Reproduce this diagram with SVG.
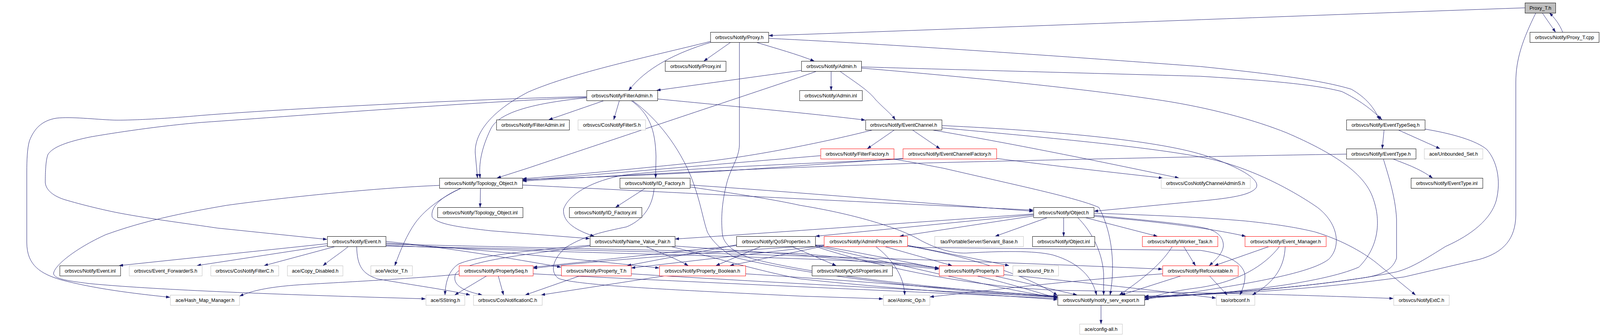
<svg xmlns="http://www.w3.org/2000/svg" width="4239" height="859" viewBox="0 0 4239 859" preserveAspectRatio="none" style="width:100vw;height:100vh;display:block">
<style>
rect{fill:#fff;stroke:#000;stroke-width:1}
.g rect{stroke:#bfbfbf}
.r rect{stroke:#ff0000}
.root rect{fill:#bfbfbf;stroke:#000}
text{font-family:"Liberation Sans",Arial,Helvetica,sans-serif;font-size:13px;fill:#000;text-anchor:middle}
#edges path{fill:none;stroke:#191970;stroke-width:1;marker-end:url(#ah)}
</style>
<defs>
<marker id="ah" viewBox="0 0 10 7" refX="10" refY="3.5" markerWidth="10" markerHeight="7" markerUnits="userSpaceOnUse" orient="auto"><path d="M0,0 L10,3.5 L0,7 z" fill="#191970" stroke="#191970" stroke-width="0.5"/></marker>
</defs>
<rect x="0" y="0" width="4239" height="859" style="fill:#fff;stroke:none"/>
<g id="edges">
<path d="M4040,20 C3500,38 2600,72 2037,91"/>
<path d="M4086,33 L4121,82"/>
<path d="M4140,82 C4132,62 4118,45 4105,33"/>
<path d="M4069,33 C4035,100 4016,150 4016,210 L4016,550 C4015,610 3985,645 3920,663 L3720,708 C3500,738 3250,754 3033,757"/>
<path d="M1936,108 L1865,156"/>
<path d="M2003,108 C2060,125 2110,138 2157,156"/>
<path d="M1884,108 C1790,135 1710,175 1666,231"/>
<path d="M1882,106 C1720,145 1520,185 1400,235 C1300,285 1258,340 1259,390 L1265,455"/>
<path d="M2036,98 C2400,115 2900,150 3180,170 C3380,190 3500,205 3580,228 C3620,250 3640,275 3655,306"/>
<path d="M1959,108 L1959,370 C1958,405 1935,430 1925,470 C1912,520 1910,560 1914,600 C1918,625 1945,645 1988,660 C2100,690 2400,735 2801,758"/>
<path d="M2202,182 L2202,231"/>
<path d="M2225,182 C2265,210 2300,230 2320,255 C2345,280 2360,290 2372,306"/>
<path d="M2123,180 L1740,231"/>
<path d="M2164,182 L2120,197 L1398,430 L1317,455"/>
<path d="M2282,171 C2600,180 3000,190 3180,195 C3350,205 3480,215 3555,234 C3600,255 3635,280 3661,306"/>
<path d="M2282,174 C2600,200 2880,228 3080,257 C3200,275 3320,305 3410,340 C3530,390 3610,440 3635,500 C3660,560 3655,630 3600,683 C3500,725 3250,752 3033,762"/>
<path d="M1601,257 L1454,306"/>
<path d="M1641,257 L1626,306"/>
<path d="M1554,250 C1400,265 1320,290 1300,330 C1275,380 1268,420 1272,455"/>
<path d="M1742,253 C1900,268 2150,290 2292,307"/>
<path d="M1672,257 C1720,290 1736,330 1738,400 L1737,455"/>
<path d="M1675,257 C1745,305 1800,380 1830,450 C1855,510 1862,560 1874,593 C1885,615 1920,650 1955,660 C2150,705 2500,745 2801,760"/>
<path d="M1554,247 C1300,252 800,275 534,295 C420,305 330,308 300,307 C250,305 190,298 150,302 C110,308 90,330 78,360 C72,380 71,410 71,440 L71,620 C71,680 110,700 160,715 C250,738 350,750 450,760"/>
<path d="M1554,249 C1300,258 800,295 534,313 C420,322 300,340 240,350 C180,362 140,375 127,395 C121,410 120,440 120,467 C122,490 150,505 177,512 C230,527 290,540 318,545 C400,560 500,572 575,583 L866,612"/>
<path d="M2370,332 L2298,380"/>
<path d="M2417,332 L2490,380"/>
<path d="M2313,332 C2200,360 2000,400 1850,415 C1650,435 1480,450 1385,457"/>
<path d="M2468,332 C2700,370 2950,420 3123,455"/>
<path d="M2496,321 C2800,335 3080,360 3200,400 C3290,430 3340,460 3328,480 C3315,497 3270,505 3200,512 L2899,540"/>
<path d="M2496,327 C2750,350 3050,375 3200,405 C3320,430 3430,490 3490,530 C3545,570 3555,630 3520,663 C3470,700 3300,728 3033,765"/>
<path d="M3667,332 L3662,380"/>
<path d="M3704,332 L3815,380"/>
<path d="M3775,330 C3850,342 3912,360 3939,382 C3965,410 3978,460 3964,513 C3950,560 3900,600 3830,630 C3780,660 3740,685 3700,695 C3500,735 3200,752 3033,759"/>
<path d="M3690,406 C3720,418 3760,430 3795,455"/>
<path d="M3665,406 C3675,440 3697,500 3700,560 L3700,660 C3690,690 3660,705 3600,712 C3400,740 3200,754 3033,760"/>
<path d="M3567,394 C3300,398 2800,408 2440,417 C2000,430 1600,450 1385,463"/>
<path d="M2174,398 C1900,420 1600,445 1385,461"/>
<path d="M2368,407 C2420,415 2460,423 2499,430 C2700,475 2850,505 2911,530 C2940,580 2958,663 2941,754"/>
<path d="M2392,405 C2250,415 2100,425 1950,435 C1700,450 1500,455 1385,459"/>
<path d="M2640,405 C2800,425 2960,442 3080,455"/>
<path d="M2400,406 C2100,420 1800,430 1650,448 C1560,465 1505,500 1493,535 C1490,570 1530,590 1574,604"/>
<path d="M1273,481 L1272,530"/>
<path d="M1384,473 C1700,488 2400,522 2737,537"/>
<path d="M1222,481 C1165,505 1140,530 1145,555 C1160,575 1230,582 1300,590 L1562,610"/>
<path d="M1222,481 C1180,500 1130,530 1100,570 C1078,600 1062,637 1046,679"/>
<path d="M1164,474 C1000,480 750,505 600,525 C480,545 380,565 280,600 C200,635 142,680 142,700 C145,712 170,717 237,725 C400,740 700,752 1060,762 L1127,764"/>
<path d="M1710,481 L1631,530"/>
<path d="M1828,473 C2100,490 2450,520 2737,540"/>
<path d="M1828,478 C1950,495 2050,510 2120,525 C2250,545 2380,580 2440,615 C2480,635 2520,648 2560,647 C2650,642 2740,640 2790,652 C2860,672 2895,710 2905,754"/>
<path d="M1733,481 C1730,520 1710,560 1660,580 C1600,592 1550,602 1500,632 C1465,660 1455,695 1480,712 C1530,730 1800,742 2120,757 L2339,764"/>
<path d="M2738,547 C2400,570 2000,598 1789,611"/>
<path d="M2738,549 L2161,604"/>
<path d="M2738,552 L2384,604"/>
<path d="M2776,556 L2637,604"/>
<path d="M2818,556 L2818,604"/>
<path d="M2874,556 L3066,604"/>
<path d="M2855,556 C2890,590 2920,640 2924,700 L2924,754"/>
<path d="M2898,553 C3050,565 3200,582 3300,604"/>
<path d="M2898,550 C3000,560 3150,572 3200,585 C3235,595 3242,615 3241,630 C3238,650 3220,665 3204,679"/>
<path d="M2898,545 C3050,550 3180,555 3300,565 C3400,575 3450,585 3484,593 C3560,615 3620,650 3653,677 L3750,754"/>
<path d="M867,623 L316,679"/>
<path d="M867,628 L522,679"/>
<path d="M889,630 L700,679"/>
<path d="M923,630 C905,645 880,660 856,679"/>
<path d="M945,630 C946,680 960,700 1000,713 C1100,730 1180,740 1245,754"/>
<path d="M1022,617 C1200,635 1350,660 1486,683"/>
<path d="M1022,621 C1300,640 1550,665 1746,685"/>
<path d="M1022,624 C1500,635 2000,645 2120,648 C2250,660 2380,675 2487,685"/>
<path d="M1022,627 C1400,645 2100,655 2420,675 C2600,700 2720,740 2801,762"/>
<path d="M1022,629 C1600,640 2300,655 3079,688"/>
<path d="M1711,630 C1745,645 1790,660 1823,679"/>
<path d="M1563,627 C1400,640 1260,655 1215,675 C1190,690 1180,720 1179,754"/>
<path d="M1563,629 C1350,655 1230,670 1207,700 C1198,725 1218,742 1277,754"/>
<path d="M1788,629 C1950,640 2100,650 2120,652 C2250,665 2380,678 2487,688"/>
<path d="M1777,630 C1900,660 2000,690 2120,713 C2400,742 2650,755 2801,766"/>
<path d="M1951,628 C1786,643 1549,670 1413,683"/>
<path d="M1951,626 L1662,679"/>
<path d="M2016,630 L1897,679"/>
<path d="M2097,630 L2215,679"/>
<path d="M2160,626 C2300,650 2400,670 2487,686"/>
<path d="M2160,628 C2400,680 2650,740 2801,761"/>
<path d="M2160,630 C2350,690 2600,735 2800,742 L3200,749 C3400,753 3550,758 3691,763"/>
<path d="M2183,626 C1800,650 1550,670 1413,686"/>
<path d="M2183,628 L1673,685"/>
<path d="M2183,629 L1934,679"/>
<path d="M2343,630 L2522,679"/>
<path d="M2320,630 C2360,660 2394,700 2397,754"/>
<path d="M2404,627 L2673,679"/>
<path d="M2404,629 C2600,660 2750,720 2801,755"/>
<path d="M2404,629 C2430,632 2445,633 2458,633 L3180,640 C3250,650 3290,670 3298,700 C3300,720 3292,740 3285,754"/>
<path d="M3136,630 L3167,679"/>
<path d="M3106,630 C3080,670 3040,705 2966,754"/>
<path d="M3363,630 L3218,679"/>
<path d="M3390,630 C3350,680 3280,720 3180,735 C3100,745 3060,755 3033,767"/>
<path d="M3405,630 C3403,680 3380,720 3318,754"/>
<path d="M1290,705 L1205,754"/>
<path d="M1320,705 L1334,754"/>
<path d="M1216,701 C1100,712 900,722 811,727 C720,732 670,742 635,757"/>
<path d="M1412,700 C1800,720 2400,745 2801,763"/>
<path d="M1537,705 L1392,754"/>
<path d="M1672,700 C2000,720 2500,745 2801,759"/>
<path d="M1763,705 L1434,754"/>
<path d="M1975,700 C2300,720 2600,745 2801,757"/>
<path d="M2634,705 L2853,754"/>
<path d="M2659,702 C2800,715 3000,735 3221,762"/>
<path d="M3130,705 L2971,754"/>
<path d="M3204,705 L3251,754"/>
<path d="M3080,700 C2800,720 2600,745 2464,759"/>
<path d="M2917,780 L2917,828"/>
</g>
<g id="PT" class="root"><rect x="4040.5" y="7.5" width="81" height="26"/><text x="4081" y="25">Proxy_T.h</text></g>
<g id="P"><rect x="1882.5" y="82.5" width="154" height="26"/><text x="1959" y="100">orbsvcs/Notify/Proxy.h</text></g>
<g id="PTC"><rect x="4053.5" y="82.5" width="183" height="26"/><text x="4145" y="100">orbsvcs/Notify/Proxy_T.cpp</text></g>
<g id="PI"><rect x="1762.5" y="156.5" width="161" height="26"/><text x="1843" y="174">orbsvcs/Notify/Proxy.inl</text></g>
<g id="A"><rect x="2123.5" y="156.5" width="159" height="26"/><text x="2203" y="174">orbsvcs/Notify/Admin.h</text></g>
<g id="FA"><rect x="1554.5" y="231.5" width="188" height="26"/><text x="1648" y="249">orbsvcs/Notify/FilterAdmin.h</text></g>
<g id="AI"><rect x="2118.5" y="231.5" width="166" height="26"/><text x="2201" y="249">orbsvcs/Notify/Admin.inl</text></g>
<g id="FAI"><rect x="1315.5" y="306.5" width="193" height="26"/><text x="1412" y="324">orbsvcs/Notify/FilterAdmin.inl</text></g>
<g id="CFS" class="g"><rect x="1531.5" y="306.5" width="179" height="26"/><text x="1621" y="324">orbsvcs/CosNotifyFilterS.h</text></g>
<g id="EC"><rect x="2293.5" y="306.5" width="202" height="26"/><text x="2394" y="324">orbsvcs/Notify/EventChannel.h</text></g>
<g id="ETS"><rect x="3567.5" y="306.5" width="208" height="26"/><text x="3671" y="324">orbsvcs/Notify/EventTypeSeq.h</text></g>
<g id="FF" class="r"><rect x="2174.5" y="380.5" width="194" height="26"/><text x="2271" y="398">orbsvcs/Notify/FilterFactory.h</text></g>
<g id="ECF" class="r"><rect x="2392.5" y="380.5" width="248" height="26"/><text x="2516" y="398">orbsvcs/Notify/EventChannelFactory.h</text></g>
<g id="ET"><rect x="3567.5" y="380.5" width="184" height="26"/><text x="3659" y="398">orbsvcs/Notify/EventType.h</text></g>
<g id="US" class="g"><rect x="3773.5" y="380.5" width="155" height="26"/><text x="3851" y="398">ace/Unbounded_Set.h</text></g>
<g id="TO"><rect x="1164.5" y="455.5" width="220" height="26"/><text x="1274" y="473">orbsvcs/Notify/Topology_Object.h</text></g>
<g id="IDF"><rect x="1642.5" y="455.5" width="186" height="26"/><text x="1735" y="473">orbsvcs/Notify/ID_Factory.h</text></g>
<g id="CCA" class="g"><rect x="3076.5" y="455.5" width="236" height="26"/><text x="3194" y="473">orbsvcs/CosNotifyChannelAdminS.h</text></g>
<g id="ETI"><rect x="3738.5" y="455.5" width="190" height="26"/><text x="3833" y="473">orbsvcs/Notify/EventType.inl</text></g>
<g id="TOI"><rect x="1159.5" y="530.5" width="226" height="26"/><text x="1272" y="548">orbsvcs/Notify/Topology_Object.inl</text></g>
<g id="IDI"><rect x="1508.5" y="530.5" width="192" height="26"/><text x="1604" y="548">orbsvcs/Notify/ID_Factory.inl</text></g>
<g id="O"><rect x="2738.5" y="530.5" width="160" height="26"/><text x="2818" y="548">orbsvcs/Notify/Object.h</text></g>
<g id="EV"><rect x="867.5" y="604.5" width="155" height="26"/><text x="945" y="622">orbsvcs/Notify/Event.h</text></g>
<g id="NVP"><rect x="1563.5" y="604.5" width="225" height="26"/><text x="1676" y="622">orbsvcs/Notify/Name_Value_Pair.h</text></g>
<g id="QP"><rect x="1951.5" y="604.5" width="209" height="26"/><text x="2056" y="622">orbsvcs/Notify/QoSProperties.h</text></g>
<g id="AP" class="r"><rect x="2183.5" y="604.5" width="221" height="26"/><text x="2294" y="622">orbsvcs/Notify/AdminProperties.h</text></g>
<g id="SB" class="g"><rect x="2476.5" y="604.5" width="235" height="26"/><text x="2594" y="622">tao/PortableServer/Servant_Base.h</text></g>
<g id="OI"><rect x="2735.5" y="604.5" width="165" height="26"/><text x="2818" y="622">orbsvcs/Notify/Object.inl</text></g>
<g id="WT" class="r"><rect x="3026.5" y="604.5" width="200" height="26"/><text x="3126" y="622">orbsvcs/Notify/Worker_Task.h</text></g>
<g id="EM" class="r"><rect x="3298.5" y="604.5" width="215" height="26"/><text x="3406" y="622">orbsvcs/Notify/Event_Manager.h</text></g>
<g id="EVI"><rect x="158.5" y="679.5" width="161" height="26"/><text x="239" y="697">orbsvcs/Notify/Event.inl</text></g>
<g id="EFS" class="g"><rect x="342.5" y="679.5" width="193" height="26"/><text x="439" y="697">orbsvcs/Event_ForwarderS.h</text></g>
<g id="CFC" class="g"><rect x="558.5" y="679.5" width="180" height="26"/><text x="648" y="697">orbsvcs/CosNotifyFilterC.h</text></g>
<g id="CD" class="g"><rect x="761.5" y="679.5" width="147" height="26"/><text x="835" y="697">ace/Copy_Disabled.h</text></g>
<g id="VT" class="g"><rect x="982.5" y="679.5" width="110" height="26"/><text x="1037" y="697">ace/Vector_T.h</text></g>
<g id="PS" class="r"><rect x="1216.5" y="679.5" width="196" height="26"/><text x="1314" y="697">orbsvcs/Notify/PropertySeq.h</text></g>
<g id="PRT" class="r"><rect x="1487.5" y="679.5" width="185" height="26"/><text x="1580" y="697">orbsvcs/Notify/Property_T.h</text></g>
<g id="PB" class="r"><rect x="1747.5" y="679.5" width="228" height="26"/><text x="1861" y="697">orbsvcs/Notify/Property_Boolean.h</text></g>
<g id="QPI"><rect x="2151.5" y="679.5" width="213" height="26"/><text x="2258" y="697">orbsvcs/Notify/QoSProperties.inl</text></g>
<g id="PR" class="r"><rect x="2488.5" y="679.5" width="171" height="26"/><text x="2574" y="697">orbsvcs/Notify/Property.h</text></g>
<g id="BP" class="g"><rect x="2683.5" y="679.5" width="121" height="26"/><text x="2744" y="697">ace/Bound_Ptr.h</text></g>
<g id="RC" class="r"><rect x="3080.5" y="679.5" width="200" height="26"/><text x="3180" y="697">orbsvcs/Notify/Refcountable.h</text></g>
<g id="HMM" class="g"><rect x="451.5" y="754.5" width="183" height="26"/><text x="543" y="772">ace/Hash_Map_Manager.h</text></g>
<g id="SS" class="g"><rect x="1128.5" y="754.5" width="103" height="26"/><text x="1180" y="772">ace/SString.h</text></g>
<g id="CNC" class="g"><rect x="1254.5" y="754.5" width="182" height="26"/><text x="1345" y="772">orbsvcs/CosNotificationC.h</text></g>
<g id="AO" class="g"><rect x="2340.5" y="754.5" width="123" height="26"/><text x="2402" y="772">ace/Atomic_Op.h</text></g>
<g id="NSE"><rect x="2802.5" y="754.5" width="230" height="26"/><text x="2917" y="772">orbsvcs/Notify/notify_serv_export.h</text></g>
<g id="OC" class="g"><rect x="3222.5" y="754.5" width="102" height="26"/><text x="3273" y="772">tao/orbconf.h</text></g>
<g id="NEC" class="g"><rect x="3692.5" y="754.5" width="147" height="26"/><text x="3766" y="772">orbsvcs/NotifyExtC.h</text></g>
<g id="CA" class="g"><rect x="2860.5" y="828.5" width="113" height="26"/><text x="2917" y="846">ace/config-all.h</text></g>
</svg>
